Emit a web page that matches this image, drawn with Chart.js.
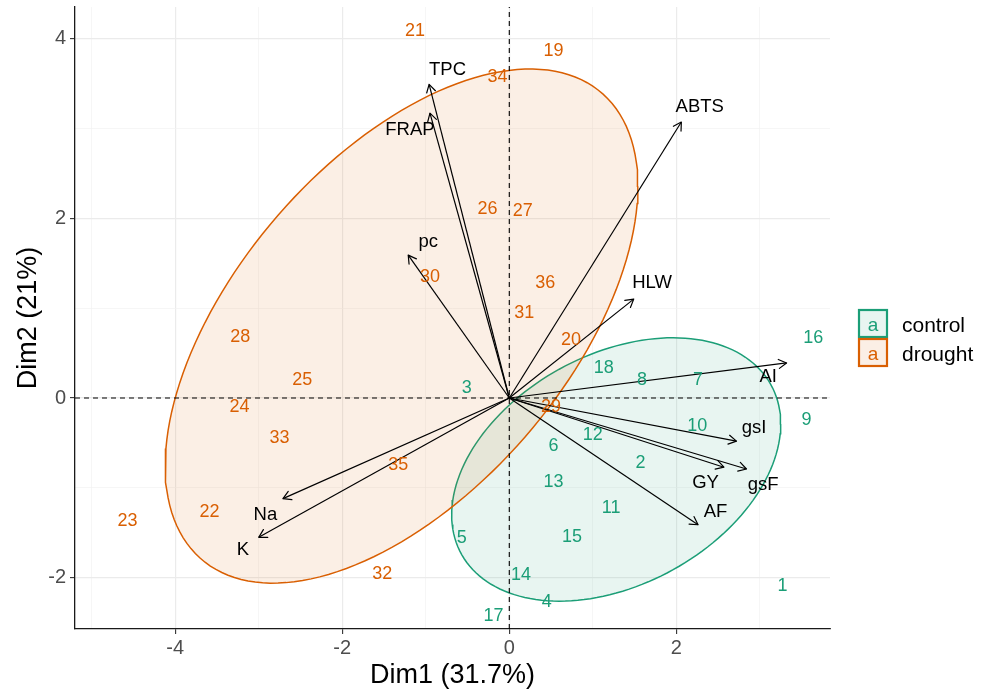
<!DOCTYPE html>
<html><head><meta charset="utf-8">
<script src="https://cdn.jsdelivr.net/npm/chart.js@4.4.0/dist/chart.umd.min.js"></script>
<style>html,body{margin:0;padding:0;background:#fff;}</style>
</head><body>
<canvas id="c" width="988" height="692"></canvas>
<script>
// ---------- DATA ----------
const controlIds = [1,2,3,4,5,6,7,8,9,10,11,12,13,14,15,16,17,18];
const controlX = [3.27,1.57,-0.51,0.45,-0.57,0.53,2.26,1.59,3.56,2.25,1.22,1.00,0.53,0.14,0.75,3.64,-0.19,1.13];
const controlY = [-2.09,-0.72,0.11,-2.27,-1.56,-0.53,0.20,0.20,-0.24,-0.31,-1.22,-0.41,-0.93,-1.97,-1.55,0.67,-2.43,0.33];

const droughtIds = [19,20,21,22,23,24,25,26,27,28,29,30,31,32,33,34,35,36];
const droughtX = [0.53,0.74,-1.13,-3.59,-4.57,-3.23,-2.48,-0.26,0.16,-3.22,0.50,-0.95,0.18,-1.52,-2.75,-0.14,-1.33,0.43];
const droughtY = [3.86,0.64,4.08,-1.27,-1.37,-0.10,0.20,2.10,2.08,0.68,-0.10,1.35,0.94,-1.96,-0.44,3.57,-0.75,1.28];

const varNames = ['TPC','FRAP','ABTS','pc','HLW','AI','gsI','gsF','GY','AF','Na','K'];
const varX = [-0.96,-0.95,2.06,-1.21,1.49,3.32,2.72,2.84,2.57,2.26,-2.71,-3.00];
const varY = [3.49,3.17,3.07,1.59,1.10,0.39,-0.48,-0.79,-0.77,-1.41,-1.12,-1.55];
const varLabelX = [-0.74,-1.19,2.28,-0.97,1.71,3.10,2.93,3.04,2.35,2.47,-2.92,-3.19];
const varLabelY = [3.65,2.98,3.24,1.74,1.28,0.23,-0.33,-0.97,-0.95,-1.27,-1.30,-1.69];

// confidence ellipses: centre, half-extent in x and y, correlation
const controlEllipse = {cx:1.28, cy:-0.795, hx:1.97, hy:1.465, rho:0.345};
const droughtEllipse = {cx:-1.29, cy:0.80, hx:2.83, hy:2.86, rho:0.544};

const xTicks = [-5,-4,-3,-2,-1,0,1,2,3];
const yTicks = [-2,-1,0,1,2,3,4];
const X_MIN = -5.2, X_MAX = 3.84, Y_MIN = -2.57, Y_MAX = 4.35;
const groupNames = ['control','drought'];

// ---------- STYLE ----------
const GREEN = '#1B9E77', ORANGE = '#D95F02';
const FAM = '"Liberation Sans", Arial, Helvetica, sans-serif';
Chart.defaults.font.family = FAM;

function ellipsePts(p, n) {
  const pts = [];
  const s = Math.sqrt(1 - p.rho * p.rho);
  for (let i = 0; i <= n; i++) {
    const t = 2 * Math.PI * i / n;
    pts.push({x: p.cx + p.hx * Math.cos(t), y: p.cy + p.hy * (p.rho * Math.cos(t) + s * Math.sin(t))});
  }
  return pts;
}
const zip = (xs, ys) => xs.map((x, i) => ({x, y: ys[i]}));

const datasets = [];
datasets.push({type:'line', label:'ellipse-control', data: ellipsePts(controlEllipse, 160),
  borderColor: GREEN, borderWidth: 1.5, backgroundColor: 'rgba(27,158,119,0.1)', fill: 'shape',
  pointRadius: 0, tension: 0, order: 101});
datasets.push({type:'line', label:'ellipse-drought', data: ellipsePts(droughtEllipse, 160),
  borderColor: ORANGE, borderWidth: 1.5, backgroundColor: 'rgba(217,95,2,0.1)', fill: 'shape',
  pointRadius: 0, tension: 0, order: 100});
datasets.push({type:'line', label:'h0', data:[{x:X_MIN,y:0},{x:X_MAX,y:0}], borderColor:'#000',
  borderWidth:1.1, borderDash:[5,4], pointRadius:0, fill:false, order:50});
datasets.push({type:'line', label:'v0', data:[{x:0,y:Y_MIN},{x:0,y:Y_MAX}], borderColor:'#000',
  borderWidth:1.1, borderDash:[5,4], pointRadius:0, fill:false, order:50});
varNames.forEach((n, i) => datasets.push({type:'line', label:'arrow-' + n,
  data:[{x:0,y:0},{x:varX[i],y:varY[i]}], borderColor:'#000', borderWidth:1.2,
  pointRadius:0, fill:false, order:10, _arrow:true}));
datasets.push({type:'scatter', label:'vars', data: zip(varLabelX, varLabelY), pointRadius:0,
  _text: varNames, _color:'#000', _font:'18.5px ' + FAM, order:0});
datasets.push({type:'scatter', label:'control', data: zip(controlX, controlY), pointRadius:0,
  _text: controlIds.map(String), _color: GREEN, _font:'18px ' + FAM, order:0});
datasets.push({type:'scatter', label:'drought', data: zip(droughtX, droughtY), pointRadius:0,
  _text: droughtIds.map(String), _color: ORANGE, _font:'18px ' + FAM, order:0});

const isMajor = c => c.tick && Math.abs(c.tick.value % 2) === 0;

const overlay = {
  id: 'overlay',
  afterDatasetsDraw(chart) {
    const ctx = chart.ctx;
    chart.data.datasets.forEach((ds, i) => {
      const meta = chart.getDatasetMeta(i);
      if (ds._arrow) {
        const p0 = meta.data[0], p1 = meta.data[1];
        const ang = Math.atan2(p1.y - p0.y, p1.x - p0.x);
        const L = 9, a = Math.PI / 6;
        ctx.save();
        ctx.strokeStyle = '#000'; ctx.lineWidth = 1.2; ctx.lineCap = 'round'; ctx.lineJoin = 'round';
        ctx.beginPath();
        ctx.moveTo(p1.x - L * Math.cos(ang - a), p1.y - L * Math.sin(ang - a));
        ctx.lineTo(p1.x, p1.y);
        ctx.lineTo(p1.x - L * Math.cos(ang + a), p1.y - L * Math.sin(ang + a));
        ctx.stroke();
        ctx.restore();
      }
      if (ds._text) {
        ctx.save();
        ctx.font = ds._font; ctx.fillStyle = ds._color;
        ctx.textAlign = 'center'; ctx.textBaseline = 'middle';
        meta.data.forEach((el, j) => ctx.fillText(ds._text[j], el.x, el.y));
        ctx.restore();
      }
    });
  },
  afterDraw(chart) {
    const ctx = chart.ctx;
    const cols = [GREEN, ORANGE], fills = ['rgba(27,158,119,0.1)', 'rgba(217,95,2,0.1)'];
    const x0 = 858, w = 30, h = 29, top = 309;
    ctx.save();
    groupNames.forEach((g, k) => {
      const y = top + k * h;
      ctx.fillStyle = '#fff'; ctx.fillRect(x0, y, w, h);
      ctx.fillStyle = fills[k]; ctx.fillRect(x0, y, w, h);
    });
    groupNames.forEach((g, k) => {
      const y = top + k * h;
      ctx.strokeStyle = cols[k]; ctx.lineWidth = 2.2;
      ctx.strokeRect(x0 + 1, y + 1, w - 2, h - 2);
      ctx.fillStyle = cols[k]; ctx.font = '19px ' + FAM;
      ctx.textAlign = 'center'; ctx.textBaseline = 'alphabetic';
      ctx.fillText('a', x0 + w / 2, y + 22);
      ctx.fillStyle = '#000'; ctx.font = '21px ' + FAM; ctx.textAlign = 'left';
      ctx.fillText(g, 902, y + 23);
    });
    ctx.restore();
  }
};

new Chart(document.getElementById('c'), {
  type: 'scatter',
  data: { datasets },
  plugins: [overlay],
  options: {
    responsive: false, animation: false, devicePixelRatio: 1,
    layout: { padding: {left: 0, right: 158, top: 7, bottom: 0} },
    plugins: { legend: {display: false}, tooltip: {enabled: false} },
    events: [],
    scales: {
      x: {
        type: 'linear', min: X_MIN, max: X_MAX,
        afterBuildTicks: s => { s.ticks = xTicks.map(v => ({value: v})); },
        afterFit: s => { s.height = 63; s.paddingLeft = 0; s.paddingRight = 0; },
        ticks: { callback: v => (Math.abs(v % 2) === 0 ? String(v) : ''), font: {size: 20}, color: '#4D4D4D',
                 padding: 2, maxRotation: 0, autoSkip: false },
        grid: { color: c => isMajor(c) ? '#EBEBEB' : '#F2F2F2', lineWidth: c => isMajor(c) ? 1.2 : 0.7,
                tickColor: c => isMajor(c) ? '#333' : 'rgba(0,0,0,0)', tickLength: 5, tickWidth: 1.1 },
        border: { display: true, color: '#1a1a1a', width: 1.3 },
        title: { display: true, text: 'Dim1 (31.7%)', font: {size: 27}, color: '#000', padding: {top: 0, bottom: 0} }
      },
      y: {
        type: 'linear', min: Y_MIN, max: Y_MAX,
        afterBuildTicks: s => { s.ticks = yTicks.map(v => ({value: v})); },
        afterFit: s => { s.width = 75; s.paddingTop = 0; s.paddingBottom = 0; },
        ticks: { callback: v => (Math.abs(v % 2) === 0 ? String(v) : ''), font: {size: 20}, color: '#4D4D4D',
                 padding: 4, autoSkip: false },
        grid: { color: c => isMajor(c) ? '#EBEBEB' : '#F2F2F2', lineWidth: c => isMajor(c) ? 1.2 : 0.7,
                tickColor: c => isMajor(c) ? '#333' : 'rgba(0,0,0,0)', tickLength: 5, tickWidth: 1.1 },
        border: { display: true, color: '#1a1a1a', width: 1.3 },
        title: { display: true, text: 'Dim2 (21%)', font: {size: 27}, color: '#000', padding: {top: 12.8, bottom: 0} }
      }
    }
  }
});
</script>
</body></html>
